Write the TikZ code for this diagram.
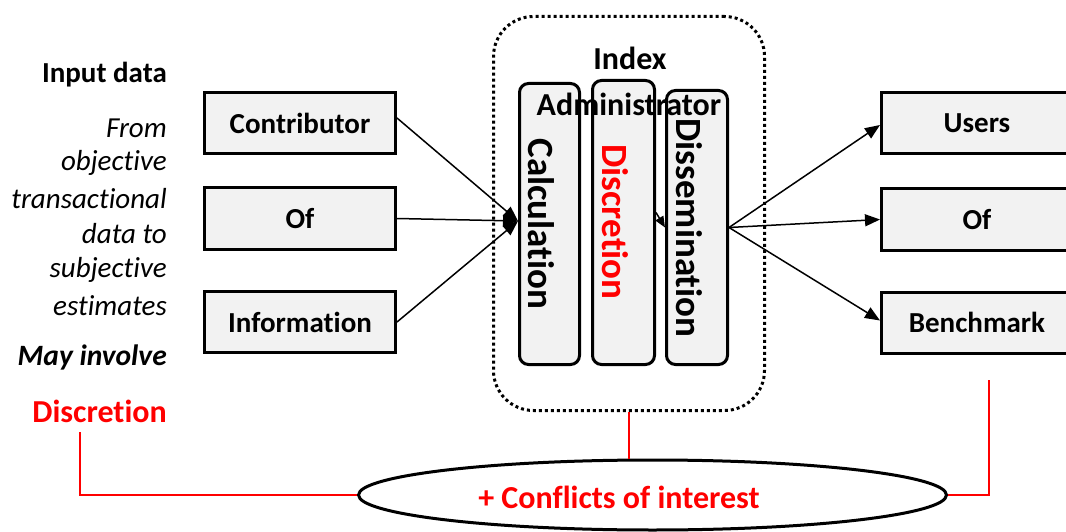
\documentclass[tikz,border=0pt]{standalone}
\usepackage{fontspec}
\setmainfont{Carlito}[Ligatures=NoCommon]
\usetikzlibrary{arrows.meta,shapes.geometric}
\definecolor{boxfill}{HTML}{F2F2F2}
\definecolor{myred}{HTML}{FF0000}
\begin{document}
\begin{tikzpicture}[x=1pt,y=-1pt,
  fbox/.style={draw=black, line width=3pt, fill=boxfill, minimum width=191pt, minimum height=61pt, inner sep=0pt,
    font=\fontsize{29}{33}\selectfont\bfseries},
  vbox/.style={draw=black, line width=3pt, fill=boxfill, rounded corners=9pt, inner sep=0pt},
  vtext/.style={rotate=-90, inner sep=0pt, font=\fontsize{37}{40}\selectfont\bfseries},
  ltext/.style={anchor=east, inner sep=0pt, font=\fontsize{29}{33}\selectfont},
  arr/.style={line width=1.5pt, -{Triangle[length=15pt,width=12pt]}},
  redline/.style={draw=myred, line width=2.5pt},
]
\useasboundingbox (0,0) rectangle (1066,532);
\clip (0,0) rectangle (1066,532);

% administrator frame
\node[draw=black, line width=3pt, dash pattern=on 3pt off 3pt, rounded corners=40pt,
      minimum width=271pt, minimum height=394pt, inner sep=0pt] (admin) at (629,213.5) {};
\node[font=\fontsize{32}{36}\selectfont\bfseries, inner sep=0pt] (index) at (630,58) {Index};

% process boxes
\node[vbox, minimum width=60pt, minimum height=281pt] (calc) at (549.5,224) {};
\node[vbox, minimum width=62pt, minimum height=284pt] (disc) at (623.5,222.5) {};
\node[vbox, minimum width=61pt, minimum height=274pt] (diss) at (697,227.5) {};
\node[vtext] (calct) at (541,224) {Calculation};
\node[vtext, text=myred] (disct) at (615,222) {Discretion};
\node[vtext] (disst) at (689,228) {Dissemination};
\node[font=\fontsize{32}{36}\selectfont\bfseries, inner sep=0pt] (adm) at (629,104) {Administrator};

% left column text
\node[ltext, font=\fontsize{29}{33}\selectfont\bfseries] (inp) at (167,75) {Input data};
\node[ltext, font=\fontsize{29}{33}\selectfont\itshape] (l1) at (167,128) {From};
\node[ltext, font=\fontsize{29}{33}\selectfont\itshape] (l2) at (167,163) {objective};
\node[ltext, font=\fontsize{29}{33}\selectfont\itshape] (l3) at (167,199) {transactional};
\node[ltext, font=\fontsize{29}{33}\selectfont\itshape] (l4) at (167,234) {data to};
\node[ltext, font=\fontsize{29}{33}\selectfont\itshape] (l5) at (167,270) {subjective};
\node[ltext, font=\fontsize{29}{33}\selectfont\itshape] (l6) at (167,306) {estimates};
\node[ltext, font=\fontsize{29.5}{33}\selectfont\bfseries\itshape] (may) at (167,357) {May involve};
\node[ltext, font=\fontsize{32}{36}\selectfont\bfseries, text=myred] (ldisc) at (167,411) {Discretion};

% input boxes
\node[fbox] (contrib) at (300,123) {Contributor};
\node[fbox] (of1) at (300,218.5) {Of};
\node[fbox] (info) at (300,322) {Information};

% output boxes
\node[fbox] (users) at (977,123) {Users};
\node[fbox] (of2) at (977,219.5) {Of};
\node[fbox] (bench) at (977,322.5) {Benchmark};

% arrows in
\draw[arr] ([yshift=5pt]contrib.east) -- ([yshift=3pt]calc.west);
\draw[arr] (of1.east) -- ([yshift=3pt]calc.west);
\draw[arr] (info.east) -- ([yshift=3pt]calc.west);
\draw[line width=1.5pt, -{Triangle[length=11pt,width=9pt]}] ([yshift=10pt]disc.east) -- ([yshift=0pt]diss.west);

% arrows out
\draw[arr] (diss.east) -- ([yshift=-2pt]users.west);
\draw[arr] (diss.east) -- (of2.west);
\draw[arr] (diss.east) -- ([yshift=2pt]bench.west);

% conflicts ellipse
\node[ellipse, draw=black, line width=3pt, minimum width=588pt, minimum height=70pt, inner sep=0pt] (ell) at (652.5,495) {};
\node[font=\fontsize{32}{36}\selectfont\bfseries, text=myred, inner sep=0pt] (confl) at (619,497) {+ Conflicts of interest};

% red links
\coordinate (lstart) at (80,432);
\coordinate (rstart) at (989,380);
\draw[redline] (lstart) |- (ell.west);
\draw[redline] (admin.south) -- (admin.south |- ell.north);
\draw[redline] (rstart) |- (ell.east);
\end{tikzpicture}
\end{document}
